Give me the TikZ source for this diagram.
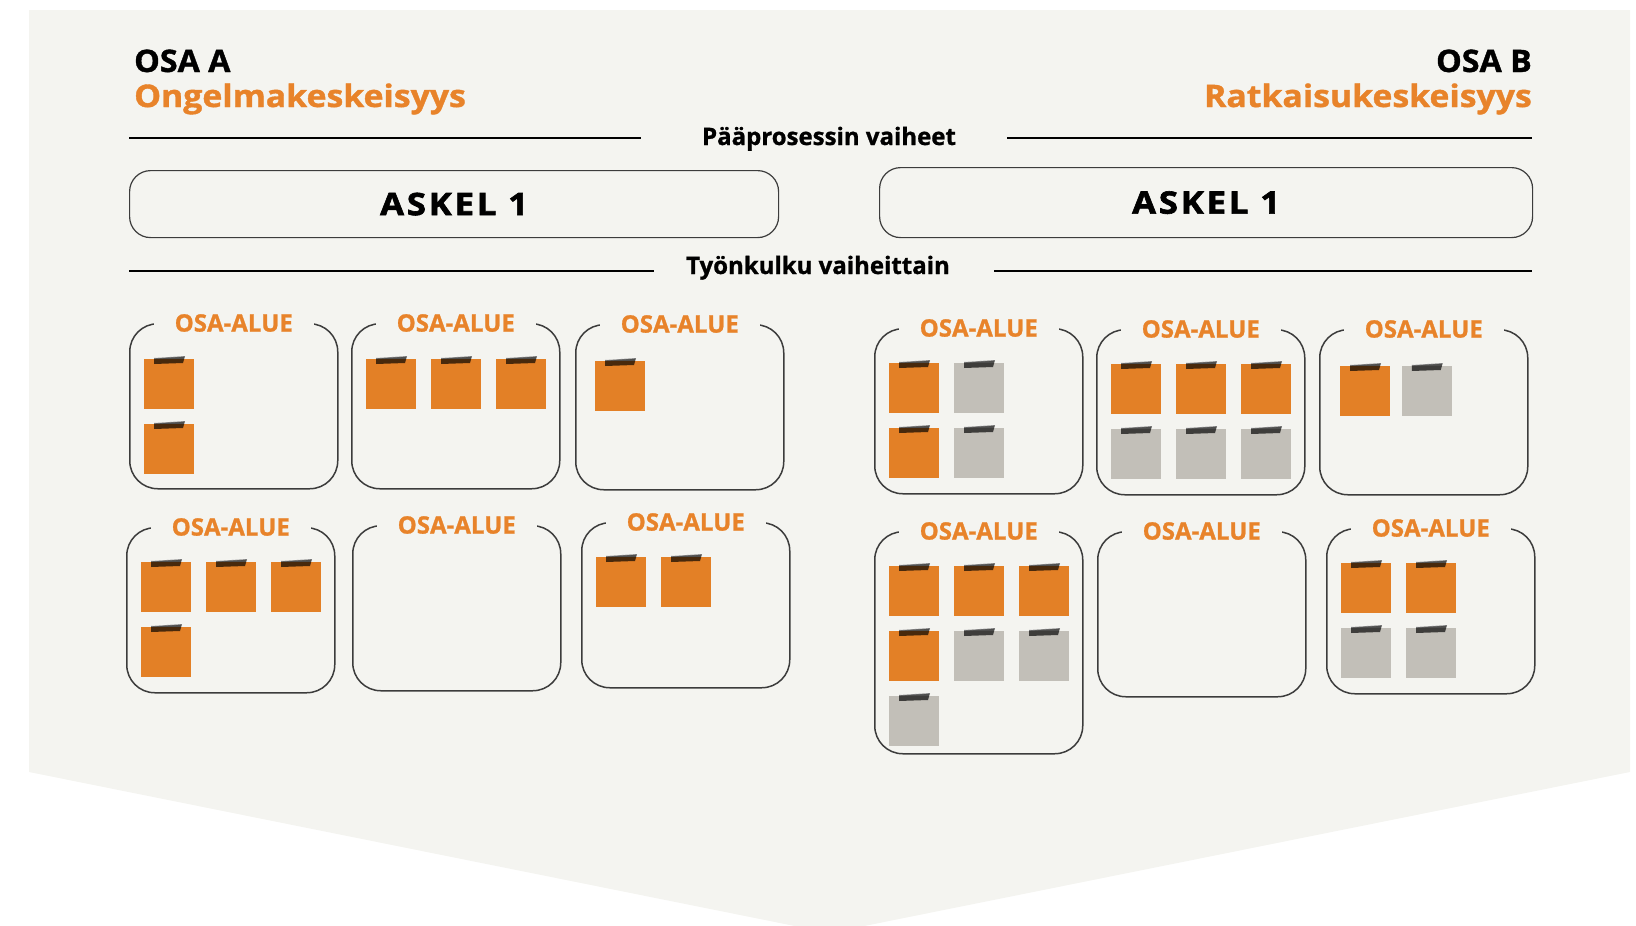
\documentclass[tikz,border=0pt]{standalone}
\usepackage{fontspec}
\setmainfont{Open Sans}
\newfontfamily\askelfont[LetterSpace=9,FakeStretch=1.12,FakeBold=2]{Open Sans}
\newfontfamily\titlefont[FakeStretch=1.04,FakeBold=1.2]{Open Sans}
\newfontfamily\subtitlefont[FakeStretch=1.09,FakeBold=1.2]{Open Sans}
\newfontfamily\heavyfont[FakeBold=1]{Open Sans}
\usepackage{xcolor}
\definecolor{bgpaper}{HTML}{F4F4F0}
\definecolor{osaorange}{HTML}{E8832A}
\definecolor{stO}{HTML}{E38026}
\definecolor{stG}{HTML}{C2BFB8}
\definecolor{rim}{HTML}{3C3C3C}

\begin{document}
\begin{tikzpicture}[x=1pt, y=-1pt,
    area/.style={draw=rim, line width=1.5pt, rounded corners=28pt, minimum width=208pt,
                 anchor=north west, inner sep=0pt},
    arealbl/.style={fill=bgpaper, inner xsep=21pt, inner ysep=2pt, text=osaorange,
                 font=\fontsize{24}{28}\selectfont\heavyfont\bfseries},
    askel/.style={draw=rim, line width=1.2pt, rounded corners=21pt, anchor=north west,
                 inner sep=0pt, font=\fontsize{31}{36}\selectfont\askelfont\bfseries},
    rule/.style={line width=2pt, black},
    head/.style={font=\fontsize{24}{28}\selectfont\heavyfont\bfseries, inner sep=0pt, anchor=base},
    title/.style={font=\fontsize{31}{36}\selectfont\titlefont\bfseries, inner sep=0pt},
    subtitle/.style={font=\fontsize{31}{36}\selectfont\subtitlefont\bfseries, inner sep=0pt,
                 text=osaorange},
    pics/note/.style={code={
        \fill[#1] (0,0) rectangle (50,50);
        \fill[black, opacity=.68] (10,-1) -- (41,-3) -- (39,4) -- (10,5) -- cycle;
        \draw[white, opacity=.4, line width=1.2pt] (10,-1) -- (41,-3);
    }}
]
\useasboundingbox (0,0) rectangle (1636,926);
\fill[bgpaper] (29,10) -- (1630,10) -- (1630,772) -- (829.5,933) -- (29,772) -- cycle;

% otsikot
\node[title, anchor=base west] (osaA) at (134,72) {OSA A};
\node[subtitle, anchor=base west] (ongA) at (134,107) {Ongelmakeskeisyys};
\node[title, anchor=base east] (osaB) at (1532,72) {OSA B};
\node[subtitle, anchor=base east] (ratB) at (1532,107) {Ratkaisukeskeisyys};

% pääprosessi
\node[head] (paa) at (829,145) {Pääprosessin vaiheet};
\coordinate (r1a) at (129,138); \coordinate (r1b) at (641,138);
\coordinate (r1c) at (1007,138); \coordinate (r1d) at (1532,138);
\draw[rule] (r1a) -- (r1b); \draw[rule] (r1c) -- (r1d);
\node[askel, minimum width=649pt, minimum height=67pt] (askA) at (129,170) {ASKEL 1};
\node[askel, minimum width=653pt, minimum height=70pt] (askB) at (879,167) {ASKEL 1};

% työnkulku
\node[head] (tyo) at (818,274) {Työnkulku vaiheittain};
\coordinate (r2a) at (129,271); \coordinate (r2b) at (654,271);
\coordinate (r2c) at (994,271); \coordinate (r2d) at (1532,271);
\draw[rule] (r2a) -- (r2b); \draw[rule] (r2c) -- (r2d);

% osa-alueet
\foreach \n/\ax/\ay/\ah in {1/129/323/165, 2/351/323/165, 3/575/324/165,
    4/126/527/165, 5/352/525/165, 6/581/522/165, 7/874/328/165, 8/1096/329/165,
    9/1319/329/165, 10/874/531/222, 11/1097/531/165, 12/1326/528/165} {
  \node[area, minimum height=\ah pt] (ala\n) at (\ax,\ay) {};
  \node[arealbl] (lbl\n) at (ala\n.north) {OSA-ALUE};
}

% laput
\foreach \sx/\sy/\lst in {
    144/359/{0/0/stO, 0/1/stO},
    366/359/{0/0/stO, 1/0/stO, 2/0/stO},
    595/361/{0/0/stO},
    141/562/{0/0/stO, 1/0/stO, 2/0/stO, 0/1/stO},
    596/557/{0/0/stO, 1/0/stO},
    889/363/{0/0/stO, 1/0/stG, 0/1/stO, 1/1/stG},
    1111/364/{0/0/stO, 1/0/stO, 2/0/stO, 0/1/stG, 1/1/stG, 2/1/stG},
    1340/366/{0/0/stO, 0.95/0/stG},
    889/566/{0/0/stO, 1/0/stO, 2/0/stO, 0/1/stO, 1/1/stG, 2/1/stG, 0/2/stG},
    1341/563/{0/0/stO, 1/0/stO, 0/1/stG, 1/1/stG}} {
  \foreach \c/\r/\f in \lst
    \pic at ({\sx+65*\c},{\sy+65*\r}) {note=\f};
}
\end{tikzpicture}
\end{document}
